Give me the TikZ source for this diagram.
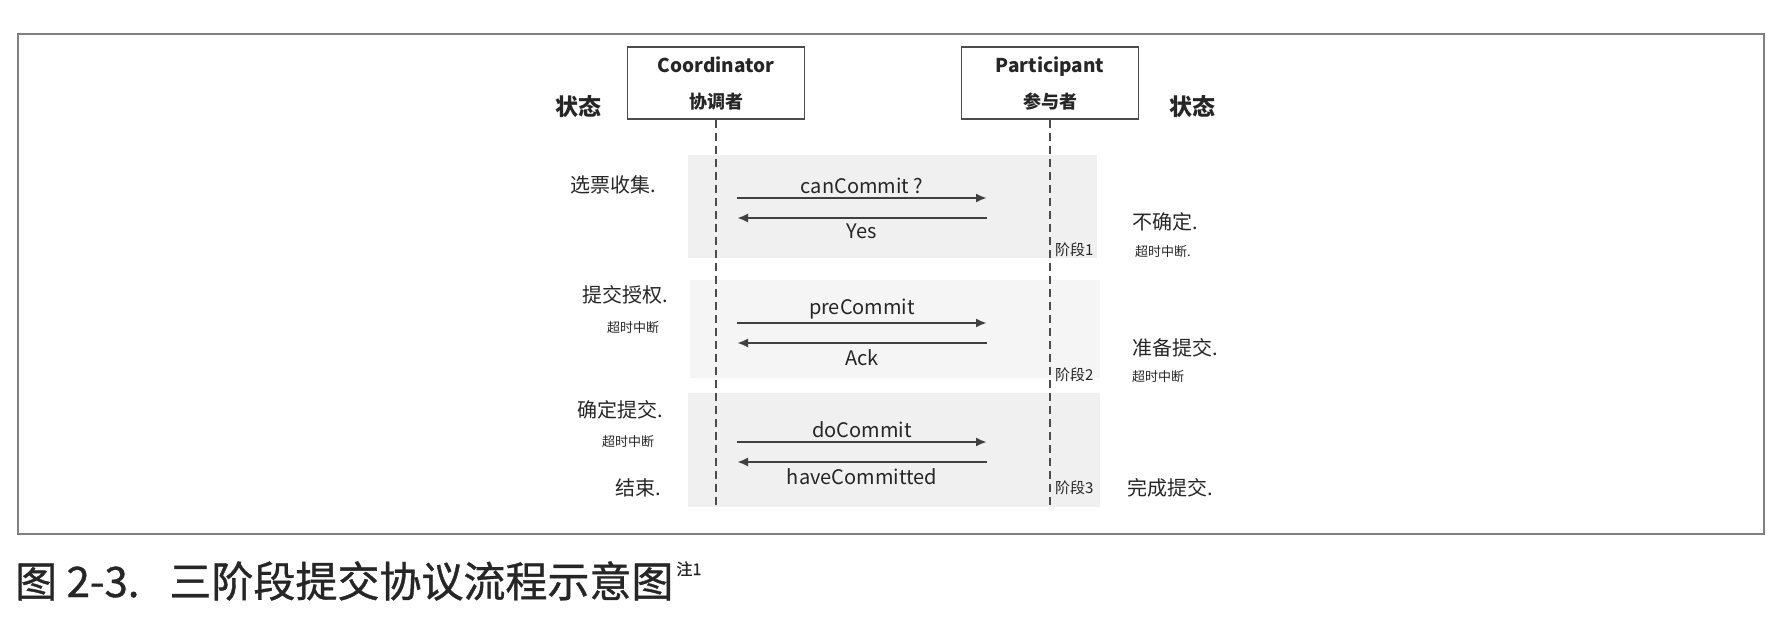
\documentclass[tikz,border=0pt]{standalone}
\usepackage{fontspec}
\setmainfont{Noto Sans CJK SC}
\newfontfamily\capfont{Noto Sans CJK SC}[FakeBold=0.9]
\usetikzlibrary{arrows.meta}

\begin{document}
\begin{tikzpicture}[x=1pt, y=-1pt,
  actor/.style={draw=black!70, line width=1.5pt, minimum width=177pt, minimum height=72pt,
    align=center, font=\bfseries\fontsize{19}{36}\selectfont, text=black!85},
  life/.style={draw=black!70, line width=1.8pt, dash pattern=on 8pt off 5pt},
  msg/.style={draw=black!75, line width=2.2pt, -{Latex[length=11pt,width=9pt]}},
  phase/.style={fill=black!6},
  txt/.style={font=\fontsize{20}{20}\selectfont, text=black!85, inner sep=0pt},
  lbl/.style={txt, anchor=west},
  small/.style={font=\fontsize{13}{13}\selectfont, text=black!85, anchor=west, inner sep=0pt},
  stage/.style={small, font=\fontsize{15}{15}\selectfont}]
  \useasboundingbox (0,0) rectangle (1780,626);
  \fill[white] (0,0) rectangle (1780,626);

  % shaded phases
  \fill[phase] (688,155) rectangle (1097,258);
  \fill[phase, fill=black!4] (690,280) rectangle (1100,378);
  \fill[phase] (688,393) rectangle (1100,507);

  \draw[black!50, line width=1.5pt] (18,34) rectangle (1764,534);

  \node[actor] (coord) at (716,83) {Coordinator\\{\fontsize{18}{36}\selectfont 协调者}};
  \node[actor] (part) at (1050,83) {Participant\\{\fontsize{18}{36}\selectfont 参与者}};
  \node[lbl, font=\bfseries\fontsize{23}{23}\selectfont] (stl) at (555,107) {状态};
  \node[lbl, font=\bfseries\fontsize{23}{23}\selectfont] (str) at (1169,107) {状态};

  \coordinate (cbot) at (716,508);
  \coordinate (pbot) at (1050,508);
  \draw[life] (coord) -- (cbot);
  \draw[life] (part) -- (pbot);

  \foreach \y/\n in {198/1,323/2,442/3}
  {
  \coordinate (ca\n) at (737,\y);
  \coordinate (pa\n) at (987,\y);
  \coordinate (cb\n) at (737,\y+20);
  \coordinate (pb\n) at (987,\y+20);
  }
  \draw[msg] (ca1) -- (pa1) node[midway, above=3pt, txt] {canCommit ?};
  \draw[msg] (pb1) -- (cb1) node[midway, below=5pt, txt] {Yes};
  \draw[msg] (ca2) -- (pa2) node[midway, above=3pt, txt] {preCommit};
  \draw[msg] (pb2) -- (cb2) node[midway, below=5pt, txt] {Ack};
  \draw[msg] (ca3) -- (pa3) node[midway, above=3pt, txt] {doCommit};
  \draw[msg] (pb3) -- (cb3) node[midway, below=5pt, txt] {haveCommitted};

  % coordinator states
  \node[lbl] (vote) at (570,185) {选票收集.};
  \node[lbl] (auth) at (582,295) {提交授权.};
  \node[small] (autht) at (607,328) {超时中断};
  \node[lbl] (sure) at (577,410) {确定提交.};
  \node[small] (suret) at (602,442) {超时中断};
  \node[lbl] (done) at (615,488) {结束.};

  % participant states
  \node[lbl] (unsure) at (1132,222) {不确定.};
  \node[small] (unsuret) at (1135,252) {超时中断.};
  \node[stage] (ph1) at (1055,250) {阶段1};
  \node[lbl] (ready) at (1132,348) {准备提交.};
  \node[small] (readyt) at (1132,377) {超时中断};
  \node[stage] (ph2) at (1055,375) {阶段2};
  \node[lbl] (fin) at (1127,488) {完成提交.};
  \node[stage] (ph3) at (1055,488) {阶段3};

  \node[anchor=base west, inner sep=0pt, font=\capfont\fontsize{42}{42}\selectfont, text=black!85] (cap) at (15,597)
    {图 2-3.\hspace{30pt}三阶段提交协议流程示意图\hspace{3pt}\raisebox{22pt}{\fontsize{16}{16}\selectfont 注1}};
\end{tikzpicture}
\end{document}
